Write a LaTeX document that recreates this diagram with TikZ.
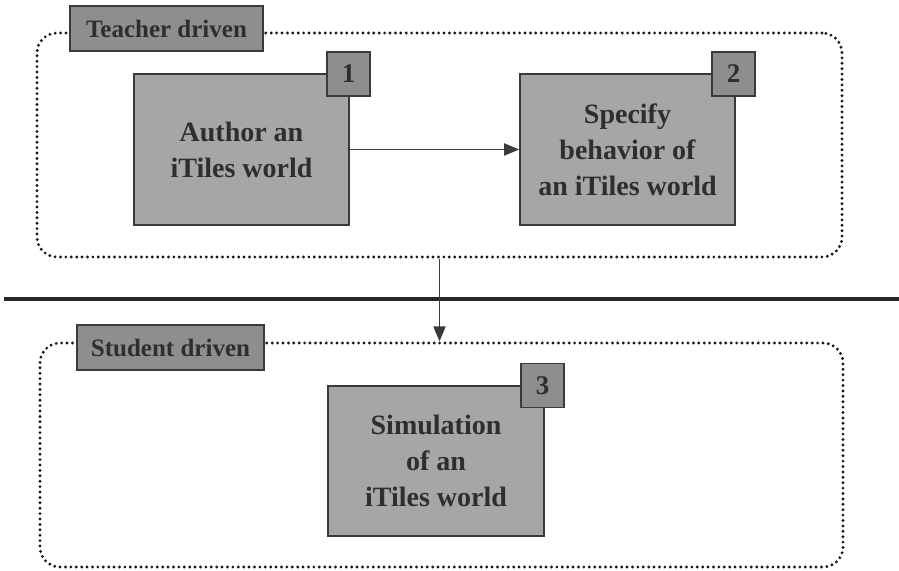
\documentclass[tikz,border=0pt]{standalone}
\usepackage{fontspec}
\setmainfont{Liberation Serif}
\usetikzlibrary{arrows.meta}
\definecolor{txt}{HTML}{2E2E2E}
\definecolor{edge}{HTML}{3A3A3A}
\definecolor{boxfill}{HTML}{A6A6A6}
\definecolor{tagfill}{HTML}{8E8E8E}
\tikzset{
  mainbox/.style={draw=edge, line width=0.8pt, fill=boxfill, text=txt,
    minimum width=107.5pt, minimum height=75.5pt, align=center, inner sep=0pt,
    font=\fontsize{14}{18}\selectfont\bfseries},
  badge/.style={draw=edge, line width=0.8pt, fill=tagfill, text=txt,
    minimum width=21.5pt, minimum height=22pt, inner sep=0pt,
    font=\fontsize{13.5}{16}\selectfont\bfseries},
  grouptag/.style={draw=edge, line width=0.8pt, fill=tagfill, text=txt,
    minimum height=22.5pt, inner sep=0pt,
    font=\fontsize{12.5}{15}\selectfont\bfseries},
  dotbox/.style={draw=black!90, line width=1.6pt, dash pattern=on 0pt off 2.7pt,
    line cap=round, rounded corners=10pt, inner sep=0pt},
  conn/.style={draw=edge, line width=0.9pt, -{Triangle[length=7.5pt,width=6pt]}},
}
\begin{document}
\begin{tikzpicture}[x=0.5pt,y=-0.5pt]
\useasboundingbox[fill=white] (0,0) rectangle (899,571);
% group frames
\node[dotbox, minimum width=402.5pt, minimum height=112pt] (tg) at (439.5,145) {};
\node[dotbox, minimum width=401.5pt, minimum height=112pt] (sg) at (441.5,455) {};
% separator line
\coordinate (hl) at (4,299);
\coordinate (hr) at (899,299);
\draw[line width=2pt, black!85] (hl) -- (hr);
% group labels
\node[grouptag, minimum width=96.5pt] (tl) at (166.5,28.5) {Teacher driven};
\node[grouptag, minimum width=93.5pt] (sl) at (170.5,347.5) {Student driven};
% steps
\node[mainbox] (b1) at (241.5,149.5) {Author an\\iTiles world};
\node[mainbox] (b2) at (627.5,149.5) {Specify\\behavior of\\an iTiles world};
\node[mainbox, minimum width=108pt, minimum height=75pt] (b3) at (436,461) {Simulation\\of an\\iTiles world};
\node[badge] (n1) at (348.5,74) {1};
\node[badge] (n2) at (733.5,74) {2};
\node[badge] (n3) at (542.5,385.5) {3};
% connectors
\draw[conn] (b1) -- (b2);
\draw[conn] (tg.south) -- (tg.south |- sg.north);
\end{tikzpicture}
\end{document}
